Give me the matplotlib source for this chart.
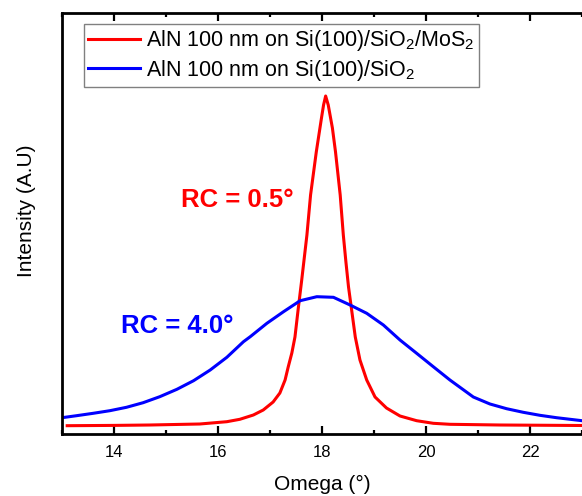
import numpy as np
import matplotlib
matplotlib.use('Agg')
import matplotlib.pyplot as plt
from matplotlib.ticker import MultipleLocator

plt.rcParams['font.family'] = ['Liberation Sans', 'DejaVu Sans']
plt.rcParams['mathtext.fontset'] = 'custom'
plt.rcParams['mathtext.rm'] = 'Liberation Sans'
plt.rcParams['mathtext.default'] = 'regular'

# AlN on Si(100)/SiO2/MoS2 (red)
omega_red = [13.10, 14.00, 14.69, 15.65, 16.17, 16.42, 16.68, 16.87, 17.06, 17.19,
             17.29, 17.35, 17.42, 17.48, 17.54, 17.61, 17.65, 17.71, 17.78, 17.89,
             17.99, 18.03, 18.07, 18.12, 18.20, 18.26, 18.35, 18.41, 18.46, 18.51,
             18.57, 18.64, 18.73, 18.86, 19.02, 19.24, 19.50, 19.82, 20.14, 20.46,
             21.42, 23.00]
int_red = [8.3, 8.6, 9.0, 10.0, 12.3, 14.7, 19.0, 24.0, 32.0, 41.0,
           54.0, 67.0, 81.0, 97.0, 124.0, 154.0, 172.0, 199.0, 239.0, 282.0,
           316.0, 329.0, 338.0, 329.0, 306.0, 282.0, 239.0, 199.0, 172.0, 147.0,
           124.0, 97.0, 74.0, 54.0, 37.0, 26.0, 18.0, 13.3, 10.7, 9.7,
           9.0, 8.5]

# AlN on Si(100)/SiO2 (blue)
omega_blue = [13.00, 13.28, 13.60, 13.92, 14.24, 14.56, 14.88, 15.21, 15.53, 15.85,
              16.17, 16.49, 16.62, 16.94, 17.26, 17.58, 17.90, 18.22, 18.54, 18.86,
              19.18, 19.50, 19.82, 20.14, 20.46, 20.91, 21.23, 21.55, 21.87, 22.19,
              22.51, 23.00]
int_blue = [16.3, 18.3, 20.7, 23.3, 26.7, 31.3, 37.3, 44.7, 53.3, 64.0,
            76.7, 92.3, 97.3, 110.7, 122.3, 133.3, 137.3, 136.7, 129.0, 120.7,
            109.0, 94.0, 80.7, 67.3, 54.0, 37.0, 30.0, 25.3, 21.7, 18.7,
            16.3, 13.3]

label_red = 'AlN 100 nm on Si(100)/SiO$_2$/MoS$_2$'
label_blue = 'AlN 100 nm on Si(100)/SiO$_2$'

fig = plt.figure(figsize=(5.82, 4.96), dpi=100)
ax = fig.add_axes([62/582, 62/496, 520/582, 421/496])

ax.plot(omega_red, int_red, color='#ff0000', lw=2.2, label=label_red)
ax.plot(omega_blue, int_blue, color='#0000ff', lw=2.2, label=label_blue)

ax.set_xlim(13, 23)
ax.set_ylim(0, 421)
ax.set_yticks([])
ax.xaxis.set_major_locator(MultipleLocator(2))
ax.xaxis.set_minor_locator(MultipleLocator(1))
ax.tick_params(axis='x', which='both', direction='in', top=True, width=1.6,
               labelsize=12, pad=8)
ax.tick_params(axis='x', which='major', length=6)
ax.tick_params(axis='x', which='minor', length=3)
for s in ['left', 'bottom', 'top']:
    ax.spines[s].set_linewidth(2)
ax.spines['right'].set_visible(False)

ax.set_xlabel('Omega (°)', fontsize=15, labelpad=11)
ax.set_ylabel('Intensity (A.U)', fontsize=15, labelpad=19)
ax.yaxis.label.set_y(0.53)

ax.text(16.37, 234, 'RC = 0.5°', color='#ff0000', fontsize=18.5,
        fontweight='bold', ha='center', va='center')
ax.text(15.22, 108, 'RC = 4.0°', color='#0000ff', fontsize=18.5,
        fontweight='bold', ha='center', va='center')

leg = ax.legend(loc='upper left', bbox_to_anchor=(0.042, 0.974), borderaxespad=0,
                fontsize=15.5, handlelength=2.4, handletextpad=0.3,
                borderpad=0.2, labelspacing=0.2, fancybox=False,
                framealpha=1)
leg.get_frame().set_edgecolor('#808080')
leg.get_frame().set_linewidth(1.0)

plt.savefig('out.png', dpi=100)
